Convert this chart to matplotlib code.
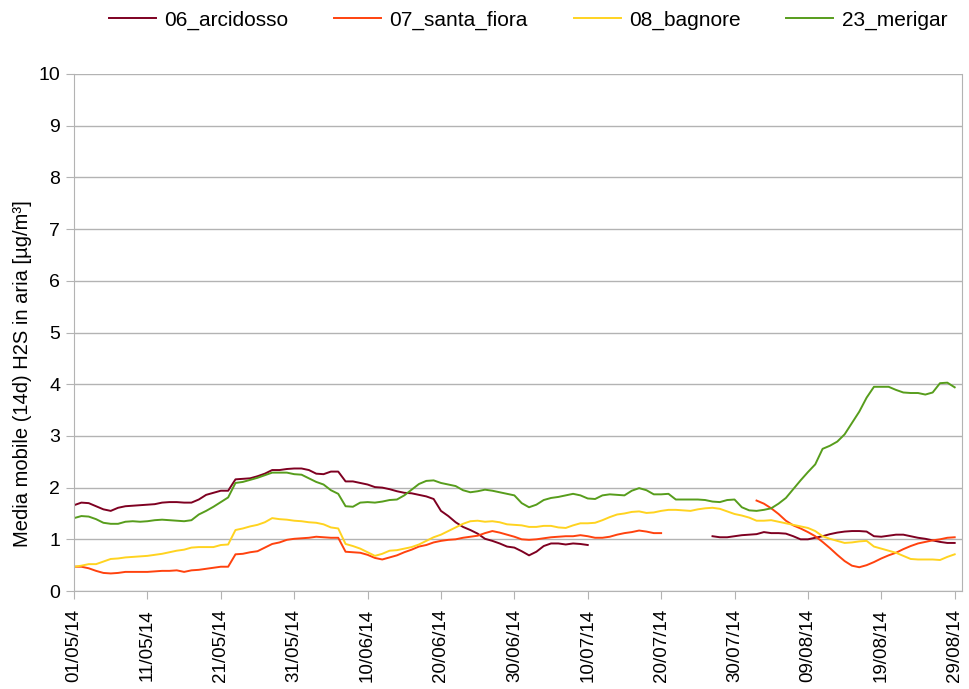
import numpy as np
import pandas as pd
import matplotlib
matplotlib.use("Agg")
import matplotlib.pyplot as plt
import matplotlib.dates as mdates

plt.rcParams['font.family'] = ['Liberation Sans', 'DejaVu Sans']

# daily 14-day moving averages, 01/05/14 .. 29/08/14
dates = pd.date_range("2014-05-01", "2014-08-29", freq="D")
nan = np.nan

arcidosso = [
    1.66, 1.71, 1.70, 1.64, 1.58, 1.55, 1.61, 1.64, 1.65, 1.66,
    1.67, 1.68, 1.71, 1.72, 1.72, 1.71, 1.71, 1.77, 1.86, 1.90,
    1.94, 1.94, 2.16, 2.17, 2.18, 2.22, 2.27, 2.34, 2.34, 2.36,
    2.37, 2.37, 2.34, 2.27, 2.26, 2.31, 2.31, 2.12, 2.12, 2.09,
    2.06, 2.01, 2.00, 1.97, 1.93, 1.90, 1.89, 1.86, 1.83, 1.78,
    1.55, 1.45, 1.33, 1.24, 1.18, 1.11, 1.01, 0.97, 0.92, 0.86,
    0.84, 0.77, 0.69, 0.76, 0.87, 0.92, 0.92, 0.90, 0.92, 0.91,
    0.89, nan, nan, nan, nan, nan, nan, nan, nan, nan,
    nan, nan, nan, nan, nan, nan, nan, 1.06, 1.04, 1.04,
    1.06, 1.08, 1.09, 1.10, 1.14, 1.12, 1.12, 1.11, 1.06, 1.00,
    1.00, 1.03, 1.06, 1.10, 1.13, 1.15, 1.16, 1.16, 1.15, 1.06,
    1.05, 1.07, 1.09, 1.09, 1.06, 1.03, 1.01, 0.98, 0.95, 0.93,
    0.93,
]

santa_fiora = [
    0.47, 0.47, 0.44, 0.39, 0.35, 0.34, 0.35, 0.37, 0.37, 0.37,
    0.37, 0.38, 0.39, 0.39, 0.40, 0.37, 0.40, 0.41, 0.43, 0.45,
    0.47, 0.47, 0.71, 0.72, 0.75, 0.77, 0.84, 0.91, 0.94, 0.99,
    1.01, 1.02, 1.03, 1.05, 1.04, 1.03, 1.03, 0.76, 0.75, 0.74,
    0.70, 0.64, 0.61, 0.65, 0.69, 0.75, 0.80, 0.86, 0.89, 0.94,
    0.97, 0.99, 1.00, 1.03, 1.05, 1.07, 1.12, 1.16, 1.13, 1.09,
    1.05, 1.00, 0.99, 1.00, 1.02, 1.04, 1.05, 1.06, 1.06, 1.08,
    1.06, 1.03, 1.03, 1.05, 1.09, 1.12, 1.14, 1.17, 1.15, 1.12,
    1.12, nan, nan, nan, nan, nan, nan, nan, nan, nan,
    nan, nan, nan, 1.75, 1.69, 1.60, 1.49, 1.36, 1.27, 1.21,
    1.14, 1.06, 0.95, 0.83, 0.70, 0.58, 0.49, 0.46, 0.50, 0.56,
    0.63, 0.69, 0.74, 0.81, 0.87, 0.92, 0.95, 0.98, 1.00, 1.03,
    1.04,
]

bagnore = [
    0.47, 0.49, 0.52, 0.52, 0.57, 0.62, 0.63, 0.65, 0.66, 0.67,
    0.68, 0.70, 0.72, 0.75, 0.78, 0.80, 0.84, 0.85, 0.85, 0.85,
    0.89, 0.90, 1.18, 1.21, 1.25, 1.28, 1.33, 1.41, 1.39, 1.38,
    1.36, 1.35, 1.33, 1.32, 1.29, 1.23, 1.21, 0.91, 0.87, 0.82,
    0.75, 0.68, 0.72, 0.78, 0.79, 0.82, 0.85, 0.90, 0.97, 1.04,
    1.09, 1.16, 1.23, 1.30, 1.35, 1.36, 1.34, 1.35, 1.33, 1.29,
    1.28, 1.27, 1.24, 1.24, 1.26, 1.26, 1.23, 1.22, 1.27, 1.31,
    1.31, 1.32, 1.37, 1.43, 1.48, 1.50, 1.53, 1.54, 1.51, 1.52,
    1.55, 1.57, 1.57, 1.56, 1.55, 1.58, 1.60, 1.61, 1.59, 1.54,
    1.49, 1.46, 1.42, 1.36, 1.36, 1.37, 1.34, 1.31, 1.28, 1.25,
    1.22, 1.16, 1.06, 1.01, 0.97, 0.93, 0.94, 0.96, 0.97, 0.86,
    0.82, 0.78, 0.74, 0.68, 0.62, 0.61, 0.61, 0.61, 0.60, 0.66,
    0.71,
]

merigar = [
    1.41, 1.45, 1.44, 1.39, 1.32, 1.30, 1.30, 1.34, 1.35, 1.34,
    1.35, 1.37, 1.38, 1.37, 1.36, 1.35, 1.37, 1.48, 1.55, 1.63,
    1.72, 1.81, 2.09, 2.11, 2.15, 2.19, 2.24, 2.29, 2.29, 2.29,
    2.26, 2.25, 2.18, 2.11, 2.06, 1.95, 1.88, 1.64, 1.63, 1.71,
    1.72, 1.71, 1.73, 1.76, 1.77, 1.85, 1.96, 2.07, 2.13, 2.14,
    2.09, 2.06, 2.03, 1.95, 1.91, 1.93, 1.96, 1.94, 1.91, 1.88,
    1.85, 1.70, 1.62, 1.67, 1.76, 1.80, 1.82, 1.85, 1.88, 1.85,
    1.79, 1.78, 1.85, 1.87, 1.86, 1.85, 1.94, 1.99, 1.95, 1.87,
    1.87, 1.88, 1.77, 1.77, 1.77, 1.77, 1.76, 1.73, 1.72, 1.76,
    1.77, 1.62, 1.56, 1.55, 1.57, 1.60, 1.69, 1.80, 1.97, 2.14,
    2.30, 2.45, 2.75, 2.81, 2.89, 3.03, 3.25, 3.47, 3.74, 3.95,
    3.95, 3.95, 3.89, 3.84, 3.83, 3.83, 3.80, 3.84, 4.02, 4.03,
    3.94,
]

series = [
    ("06_arcidosso", arcidosso, "#7e0021"),
    ("07_santa_fiora", santa_fiora, "#ff420e"),
    ("08_bagnore", bagnore, "#ffd320"),
    ("23_merigar", merigar, "#579d1c"),
]

fig = plt.figure(figsize=(9.69, 6.89), dpi=100)
ax = fig.add_axes([0.0764, 0.1422, 0.9164, 0.7504])

for name, vals, col in series:
    ax.plot(dates, vals, color=col, lw=1.4, label=name)

grid_col = "#b3b3b3"
ax.set_ylim(0, 10)
ax.set_yticks(range(0, 11))
ax.yaxis.grid(True, color=grid_col, lw=1)
ax.set_axisbelow(True)
for s in ax.spines.values():
    s.set_color(grid_col)
ax.spines['top'].set_visible(False)

ax.set_xlim(dates[0], dates[0] + pd.Timedelta(days=121))
ax.set_xticks(dates[::10])
ax.xaxis.set_major_formatter(mdates.DateFormatter("%d/%m/%y"))
ax.tick_params(axis='x', rotation=90, labelsize=13.5, color=grid_col, length=6, pad=7)
ax.tick_params(axis='y', labelsize=14, color=grid_col, length=6, pad=4)

ax.set_ylabel("Media mobile (14d) H2S in aria [µg/m³]", fontsize=14.5)
ax.yaxis.set_label_coords(-0.047, 0.42)

fig.legend(loc='upper center', bbox_to_anchor=(0.545, 1.012), ncol=4, frameon=False,
           fontsize=15, handlelength=2.25, columnspacing=2.2, handletextpad=0.4)

fig.savefig("out.png", dpi=100)
